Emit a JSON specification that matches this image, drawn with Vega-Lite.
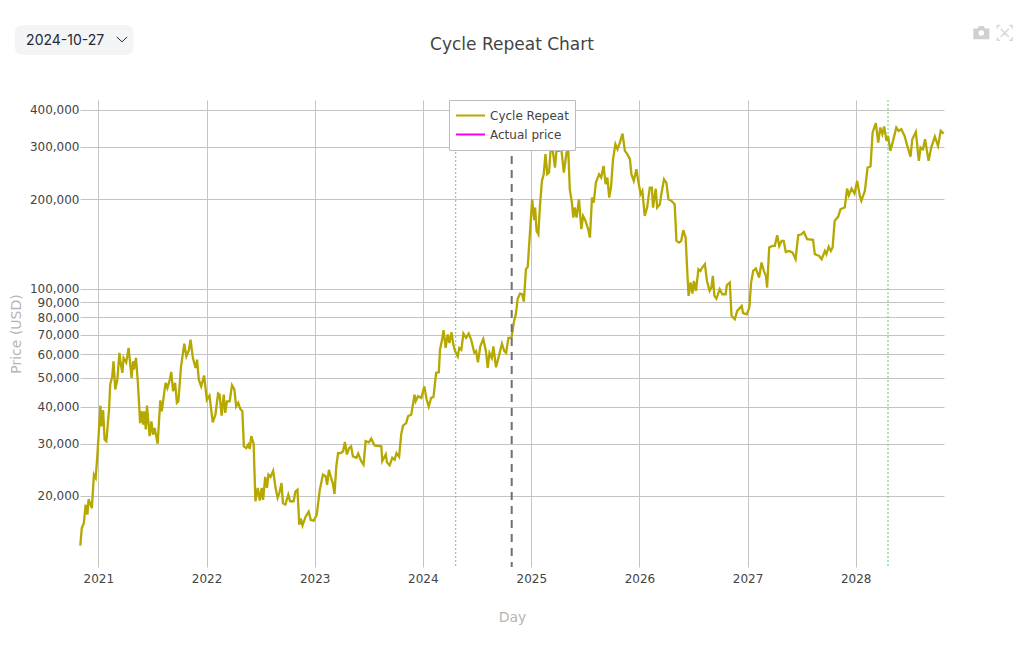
{"$schema":"https://vega.github.io/schema/vega-lite/v6.json","width":864,"height":467,"autosize":"none","padding":{"left":80,"top":100,"right":80,"bottom":83},"background":"white",
"title":{"text":"Cycle Repeat Chart","anchor":"middle","frame":"group","offset":0,"dy":31,"fontSize":17,"fontWeight":"normal","font":"DejaVu Sans","color":"#444444"},
"config":{"font":"DejaVu Sans","view":{"stroke":null}},
"datasets":{"cycle":[
{"date":"2020-11-01","price":13600},{"date":"2020-11-06","price":15600},{"date":"2020-11-13","price":16200},{"date":"2020-11-19","price":18700},{"date":"2020-11-25","price":17300},{"date":"2020-11-29","price":19500},{"date":"2020-12-10","price":18200},{"date":"2020-12-17","price":23600},{"date":"2020-12-23","price":23000},{"date":"2020-12-28","price":26900},
{"date":"2021-01-02","price":32200},{"date":"2021-01-08","price":40300},{"date":"2021-01-11","price":34300},{"date":"2021-01-17","price":38900},{"date":"2021-01-22","price":31000},{"date":"2021-01-28","price":30600},{"date":"2021-02-06","price":39000},{"date":"2021-02-10","price":47500},{"date":"2021-02-17","price":50600},{"date":"2021-02-21","price":56900},{"date":"2021-02-27","price":45700},{"date":"2021-03-06","price":49300},{"date":"2021-03-13","price":60700},{"date":"2021-03-17","price":56200},{"date":"2021-03-23","price":52000},{"date":"2021-03-27","price":58400},{"date":"2021-04-05","price":56400},{"date":"2021-04-13","price":63100},{"date":"2021-04-23","price":50000},{"date":"2021-04-28","price":56900},{"date":"2021-05-01","price":53300},{"date":"2021-05-08","price":58400},{"date":"2021-05-14","price":48700},{"date":"2021-05-22","price":35200},{"date":"2021-05-27","price":38600},{"date":"2021-06-01","price":34800},{"date":"2021-06-05","price":38600},{"date":"2021-06-10","price":33500},{"date":"2021-06-14","price":40300},{"date":"2021-06-23","price":31800},{"date":"2021-06-29","price":35700},{"date":"2021-07-04","price":32200},{"date":"2021-07-10","price":33900},{"date":"2021-07-20","price":30000},{"date":"2021-07-29","price":42000},{"date":"2021-08-03","price":38600},{"date":"2021-08-12","price":45100},{"date":"2021-08-16","price":48100},{"date":"2021-08-22","price":46200},{"date":"2021-08-30","price":49300},{"date":"2021-09-04","price":52400},{"date":"2021-09-10","price":45100},{"date":"2021-09-17","price":48100},{"date":"2021-09-23","price":41200},{"date":"2021-09-28","price":41700},{"date":"2021-10-07","price":54700},{"date":"2021-10-18","price":65200},{"date":"2021-10-25","price":59100},{"date":"2021-11-03","price":62200},{"date":"2021-11-08","price":67300},{"date":"2021-11-16","price":58400},{"date":"2021-11-25","price":54000},{"date":"2021-11-30","price":57600},{"date":"2021-12-06","price":49300},{"date":"2021-12-14","price":46800},{"date":"2021-12-24","price":50900},
{"date":"2022-01-02","price":42200},{"date":"2022-01-11","price":43600},{"date":"2022-01-22","price":35400},{"date":"2022-01-31","price":37600},{"date":"2022-02-09","price":44300},{"date":"2022-02-14","price":43900},{"date":"2022-02-21","price":37300},{"date":"2022-02-28","price":43900},{"date":"2022-03-05","price":38100},{"date":"2022-03-11","price":41700},{"date":"2022-03-20","price":41700},{"date":"2022-03-28","price":47200},{"date":"2022-04-05","price":45700},{"date":"2022-04-11","price":40100},{"date":"2022-04-18","price":41200},{"date":"2022-04-25","price":39300},{"date":"2022-05-02","price":38600},{"date":"2022-05-07","price":29400},{"date":"2022-05-15","price":29000},{"date":"2022-05-22","price":29800},{"date":"2022-05-27","price":28800},{"date":"2022-06-01","price":31800},{"date":"2022-06-09","price":30000},{"date":"2022-06-15","price":19200},{"date":"2022-06-23","price":21300},{"date":"2022-06-30","price":19300},{"date":"2022-07-06","price":21300},{"date":"2022-07-11","price":19400},{"date":"2022-07-18","price":23200},{"date":"2022-07-24","price":21300},{"date":"2022-07-29","price":23600},{"date":"2022-08-05","price":23200},{"date":"2022-08-14","price":24300},{"date":"2022-08-22","price":21300},{"date":"2022-08-29","price":19700},{"date":"2022-09-04","price":20500},{"date":"2022-09-11","price":22100},{"date":"2022-09-16","price":18900},{"date":"2022-09-24","price":18700},{"date":"2022-10-04","price":20200},{"date":"2022-10-10","price":19200},{"date":"2022-10-22","price":19200},{"date":"2022-10-28","price":20700},{"date":"2022-11-04","price":21000},{"date":"2022-11-10","price":16000},{"date":"2022-11-15","price":16800},{"date":"2022-11-21","price":15900},{"date":"2022-12-01","price":17000},{"date":"2022-12-12","price":17700},{"date":"2022-12-19","price":16600},{"date":"2022-12-29","price":16500},
{"date":"2023-01-08","price":17300},{"date":"2023-01-18","price":20900},{"date":"2023-01-29","price":23600},{"date":"2023-02-07","price":23300},{"date":"2023-02-12","price":21800},{"date":"2023-02-18","price":24500},{"date":"2023-02-24","price":23300},{"date":"2023-03-03","price":22100},{"date":"2023-03-09","price":20300},{"date":"2023-03-15","price":25200},{"date":"2023-03-21","price":27900},{"date":"2023-03-30","price":27900},{"date":"2023-04-07","price":28300},{"date":"2023-04-13","price":30400},{"date":"2023-04-20","price":27600},{"date":"2023-04-27","price":29000},{"date":"2023-05-04","price":29400},{"date":"2023-05-10","price":27200},{"date":"2023-05-22","price":26900},{"date":"2023-05-28","price":27800},{"date":"2023-06-07","price":26200},{"date":"2023-06-15","price":25500},{"date":"2023-06-22","price":30600},{"date":"2023-07-03","price":30300},{"date":"2023-07-11","price":31200},{"date":"2023-07-22","price":29600},{"date":"2023-08-14","price":29400},{"date":"2023-08-17","price":26200},{"date":"2023-08-29","price":27600},{"date":"2023-09-02","price":26000},{"date":"2023-09-11","price":25400},{"date":"2023-09-20","price":26900},{"date":"2023-09-28","price":26500},{"date":"2023-10-04","price":27900},{"date":"2023-10-13","price":27100},{"date":"2023-10-20","price":32200},{"date":"2023-10-26","price":34500},{"date":"2023-11-06","price":35200},{"date":"2023-11-12","price":37100},{"date":"2023-11-23","price":37600},{"date":"2023-12-04","price":43900},{"date":"2023-12-08","price":41700},{"date":"2023-12-16","price":43400},{"date":"2023-12-27","price":42800},
{"date":"2024-01-06","price":46800},{"date":"2024-01-14","price":42200},{"date":"2024-01-21","price":40000},{"date":"2024-01-29","price":42800},{"date":"2024-02-06","price":43100},{"date":"2024-02-15","price":52000},{"date":"2024-02-24","price":52200},{"date":"2024-02-28","price":62200},{"date":"2024-03-06","price":67300},{"date":"2024-03-11","price":72400},{"date":"2024-03-18","price":63100},{"date":"2024-03-25","price":70000},{"date":"2024-03-31","price":65500},{"date":"2024-04-07","price":71200},{"date":"2024-04-13","price":64800},{"date":"2024-04-19","price":61500},{"date":"2024-04-28","price":59100},{"date":"2024-05-03","price":63100},{"date":"2024-05-10","price":62200},{"date":"2024-05-17","price":70500},{"date":"2024-05-26","price":68200},{"date":"2024-06-04","price":70500},{"date":"2024-06-12","price":67300},{"date":"2024-06-23","price":60700},{"date":"2024-06-29","price":61500},{"date":"2024-07-05","price":56400},{"date":"2024-07-13","price":63900},{"date":"2024-07-23","price":67700},{"date":"2024-08-01","price":61500},{"date":"2024-08-07","price":54000},{"date":"2024-08-13","price":60700},{"date":"2024-08-21","price":58400},{"date":"2024-08-26","price":63900},{"date":"2024-09-04","price":54300},{"date":"2024-09-15","price":59900},{"date":"2024-09-24","price":65200},{"date":"2024-10-02","price":61500},{"date":"2024-10-08","price":60700},{"date":"2024-10-16","price":68200},{"date":"2024-10-26","price":68200},{"date":"2024-10-29","price":71100},{"date":"2024-11-04","price":77800},{"date":"2024-11-10","price":81900},{"date":"2024-11-16","price":92100},{"date":"2024-11-24","price":96200},{"date":"2024-12-01","price":95700},{"date":"2024-12-07","price":90400},{"date":"2024-12-14","price":116200},{"date":"2024-12-20","price":118300},{"date":"2024-12-28","price":156500},
{"date":"2025-01-04","price":200000},{"date":"2025-01-11","price":170000},{"date":"2025-01-14","price":187500},{"date":"2025-01-19","price":156500},{"date":"2025-01-25","price":152400},{"date":"2025-01-30","price":187500},{"date":"2025-02-06","price":230700},{"date":"2025-02-12","price":242900},{"date":"2025-02-18","price":283700},{"date":"2025-02-24","price":242900},{"date":"2025-03-02","price":246000},{"date":"2025-03-07","price":291100},{"date":"2025-03-14","price":294900},{"date":"2025-03-22","price":255800},{"date":"2025-03-27","price":291100},{"date":"2025-04-05","price":291100},{"date":"2025-04-12","price":298700},{"date":"2025-04-21","price":246000},{"date":"2025-04-30","price":287300},{"date":"2025-05-06","price":291100},{"date":"2025-05-11","price":216200},{"date":"2025-05-18","price":194900},{"date":"2025-05-23","price":173500},{"date":"2025-05-28","price":187500},{"date":"2025-06-03","price":173500},{"date":"2025-06-11","price":200000},{"date":"2025-06-19","price":158500},{"date":"2025-06-25","price":175700},{"date":"2025-07-03","price":169100},{"date":"2025-07-12","price":158500},{"date":"2025-07-18","price":148500},{"date":"2025-07-25","price":202600},{"date":"2025-07-31","price":194900},{"date":"2025-08-07","price":227600},{"date":"2025-08-18","price":242900},{"date":"2025-08-25","price":236700},{"date":"2025-09-02","price":259100},{"date":"2025-09-09","price":224700},{"date":"2025-09-15","price":236700},{"date":"2025-09-21","price":202600},{"date":"2025-09-27","price":219000},{"date":"2025-10-04","price":272900},{"date":"2025-10-12","price":306600},{"date":"2025-10-19","price":294900},{"date":"2025-10-27","price":310500},{"date":"2025-11-05","price":333000},{"date":"2025-11-13","price":291100},{"date":"2025-11-21","price":283700},{"date":"2025-11-30","price":272900},{"date":"2025-12-05","price":242900},{"date":"2025-12-13","price":230700},{"date":"2025-12-22","price":252500},{"date":"2025-12-28","price":230700},
{"date":"2026-01-05","price":208000},{"date":"2026-01-11","price":213500},{"date":"2026-01-19","price":175700},{"date":"2026-01-27","price":187500},{"date":"2026-02-05","price":219000},{"date":"2026-02-12","price":219000},{"date":"2026-02-16","price":187500},{"date":"2026-02-25","price":217000},{"date":"2026-03-02","price":187500},{"date":"2026-03-11","price":192400},{"date":"2026-03-16","price":208000},{"date":"2026-03-25","price":233600},{"date":"2026-04-02","price":227600},{"date":"2026-04-09","price":200000},{"date":"2026-04-19","price":197500},{"date":"2026-04-30","price":192400},{"date":"2026-05-06","price":144800},{"date":"2026-05-15","price":142900},{"date":"2026-05-22","price":144800},{"date":"2026-05-29","price":157300},{"date":"2026-06-06","price":148500},{"date":"2026-06-12","price":111800},{"date":"2026-06-16","price":94500},{"date":"2026-06-23","price":104800},{"date":"2026-06-29","price":96200},{"date":"2026-07-04","price":106100},{"date":"2026-07-11","price":98200},{"date":"2026-07-19","price":116200},{"date":"2026-07-26","price":114700},{"date":"2026-08-01","price":117700},{"date":"2026-08-10","price":120800},{"date":"2026-08-17","price":106100},{"date":"2026-08-26","price":98200},{"date":"2026-09-01","price":100800},{"date":"2026-09-06","price":110300},{"date":"2026-09-11","price":94500},{"date":"2026-09-18","price":92500},{"date":"2026-09-29","price":99500},{"date":"2026-10-08","price":95700},{"date":"2026-10-19","price":95700},{"date":"2026-10-23","price":102600},{"date":"2026-11-02","price":104800},{"date":"2026-11-08","price":80900},{"date":"2026-11-19","price":78800},{"date":"2026-11-27","price":84100},{"date":"2026-12-12","price":87400},{"date":"2026-12-17","price":82600},{"date":"2026-12-29","price":81900},
{"date":"2027-01-07","price":86300},{"date":"2027-01-13","price":104800},{"date":"2027-01-20","price":114700},{"date":"2027-01-29","price":116800},{"date":"2027-02-09","price":108900},{"date":"2027-02-17","price":122400},{"date":"2027-02-25","price":114700},{"date":"2027-03-04","price":110300},{"date":"2027-03-08","price":100800},{"date":"2027-03-15","price":137500},{"date":"2027-03-26","price":139200},{"date":"2027-04-03","price":139200},{"date":"2027-04-11","price":151300},{"date":"2027-04-18","price":139200},{"date":"2027-04-26","price":144800},{"date":"2027-05-03","price":144800},{"date":"2027-05-10","price":132900},{"date":"2027-05-21","price":133900},{"date":"2027-06-02","price":132200},{"date":"2027-06-12","price":125600},{"date":"2027-06-21","price":151300},{"date":"2027-07-02","price":152400},{"date":"2027-07-10","price":155200},{"date":"2027-07-21","price":146700},{"date":"2027-08-10","price":145900},{"date":"2027-08-16","price":130500},{"date":"2027-08-31","price":128800},{"date":"2027-09-08","price":125600},{"date":"2027-09-19","price":133900},{"date":"2027-09-24","price":130500},{"date":"2027-10-02","price":138500},{"date":"2027-10-09","price":133900},{"date":"2027-10-15","price":137500},{"date":"2027-10-22","price":169100},{"date":"2027-11-03","price":174800},{"date":"2027-11-11","price":185100},{"date":"2027-11-25","price":187500},{"date":"2027-12-03","price":217300},{"date":"2027-12-09","price":206300},{"date":"2027-12-18","price":217300},{"date":"2027-12-28","price":209000},
{"date":"2028-01-06","price":230700},{"date":"2028-01-15","price":205300},{"date":"2028-01-20","price":197500},{"date":"2028-02-01","price":213500},{"date":"2028-02-10","price":255800},{"date":"2028-02-20","price":257800},{"date":"2028-02-27","price":335600},{"date":"2028-03-09","price":360800},{"date":"2028-03-17","price":310500},{"date":"2028-03-24","price":348900},{"date":"2028-03-31","price":331300},{"date":"2028-04-06","price":351700},{"date":"2028-04-14","price":314600},{"date":"2028-04-19","price":327000},{"date":"2028-04-27","price":291100},{"date":"2028-05-06","price":314600},{"date":"2028-05-17","price":348900},{"date":"2028-05-25","price":340000},{"date":"2028-06-03","price":344400},{"date":"2028-06-14","price":327000},{"date":"2028-06-23","price":302600},{"date":"2028-07-04","price":278500},{"date":"2028-07-10","price":318700},{"date":"2028-07-22","price":337400},{"date":"2028-08-01","price":269400},{"date":"2028-08-07","price":298700},{"date":"2028-08-15","price":294900},{"date":"2028-08-22","price":318700},{"date":"2028-09-03","price":269400},{"date":"2028-09-12","price":298700},{"date":"2028-09-24","price":325300},{"date":"2028-10-05","price":302600},{"date":"2028-10-14","price":340000},{"date":"2028-10-24","price":333000}
]},
"layer":[
{"data":{"name":"cycle"},"mark":{"type":"line","strokeWidth":2.3,"interpolate":"linear"},
"encoding":{
"x":{"field":"date","type":"temporal","title":"Day","scale":{"domain":["2020-10-31","2028-10-25"],"nice":false},"axis":{"format":"%Y","tickCount":"year","grid":true,"gridColor":"#c4c4c4","gridWidth":1,"domain":false,"ticks":false,"labelFontSize":12,"labelColor":"#444444","labelPadding":6,"labelFlush":false,"titleFontSize":14,"titleFontWeight":"normal","titleColor":"#b5b5b5","titlePadding":26}},
"y":{"field":"price","type":"quantitative","title":"Price (USD)","scale":{"type":"log","domain":[11525,432000],"nice":false},"axis":{"values":[20000,30000,40000,50000,60000,70000,80000,90000,100000,200000,300000,400000],"format":",","grid":true,"gridColor":"#c4c4c4","gridWidth":1,"domain":false,"ticks":false,"labelFontSize":12,"labelColor":"#444444","labelPadding":1,"titleFontSize":14,"titleFontWeight":"normal","titleColor":"#b5b5b5","titlePadding":6}},
"color":{"datum":"Cycle Repeat","scale":{"domain":["Cycle Repeat","Actual price"],"range":["#b5a800","#ff00e6"]},"legend":{"title":null,"orient":"none","legendX":369,"legendY":0,"fillColor":"white","strokeColor":"#bcbcbc","padding":6,"symbolType":"stroke","symbolSize":841,"symbolStrokeWidth":2,"labelFontSize":12,"labelColor":"#444444","labelOffset":4,"rowPadding":0,"clipHeight":19}}
}},
{"data":{"values":[{"date":"2024-10-27"}]},"mark":{"type":"rule","color":"#707070","strokeWidth":2,"strokeDash":[8,6]},"encoding":{"x":{"field":"date","type":"temporal"}}},
{"data":{"values":[{"date":"2024-04-21"},{"date":"2028-04-19"}]},"mark":{"type":"rule","color":"#5fd35f","strokeWidth":1,"strokeDash":[2,2]},"encoding":{"x":{"field":"date","type":"temporal"}}},
{"data":{"values":[{"date":"2020-03-25","date2":"2021-04-30","price":773600,"price2":612800}]},"mark":{"type":"rect","fill":"#f3f4f6","cornerRadius":8,"clip":false},"encoding":{"x":{"field":"date","type":"temporal"},"x2":{"field":"date2"},"y":{"field":"price","type":"quantitative"},"y2":{"field":"price2"}}},
{"data":{"values":[{"date":"2020-09-11","price":682000,"label":"2024-10-27"}]},"mark":{"type":"text","font":"Inter","fontSize":14,"color":"#1f2937","clip":false},"encoding":{"x":{"field":"date","type":"temporal"},"y":{"field":"price","type":"quantitative"},"text":{"field":"label"}}},
{"data":{"values":[{"date":"2021-03-04","price":704900},{"date":"2021-03-22","price":678000},{"date":"2021-04-08","price":704900}]},"mark":{"type":"line","color":"#1f2937","strokeWidth":1,"clip":false},"encoding":{"x":{"field":"date","type":"temporal"},"y":{"field":"price","type":"quantitative"}}},
{"data":{"values":[{"date":"2029-02-28","price":727000}]},"mark":{"type":"point","filled":true,"color":"#d0d0d0","size":256,"opacity":1,"clip":false,"shape":"M-1,-0.55 L-0.45,-0.55 L-0.3,-0.85 L0.3,-0.85 L0.45,-0.55 L1,-0.55 L1,0.8 L-1,0.8 Z"},"encoding":{"x":{"field":"date","type":"temporal"},"y":{"field":"price","type":"quantitative"}}},
{"data":{"values":[{"date":"2029-02-28","price":727000}]},"mark":{"type":"point","filled":true,"color":"white","size":30,"opacity":1,"clip":false,"shape":"circle"},"encoding":{"x":{"field":"date","type":"temporal"},"y":{"field":"price","type":"quantitative"}}},
{"data":{"values":[{"date":"2029-05-18","price":727000}]},"mark":{"type":"point","filled":false,"color":"#d8d8d8","strokeWidth":1.5,"size":220,"opacity":1,"clip":false,"shape":"M-1,-0.6 L-1,-1 L-0.6,-1 M0.6,-1 L1,-1 L1,-0.6 M1,0.6 L1,1 L0.6,1 M-0.6,1 L-1,1 L-1,0.6 M-0.55,-0.55 L0.55,0.55 M0.55,-0.55 L-0.55,0.55"},"encoding":{"x":{"field":"date","type":"temporal"},"y":{"field":"price","type":"quantitative"}}}
]}
